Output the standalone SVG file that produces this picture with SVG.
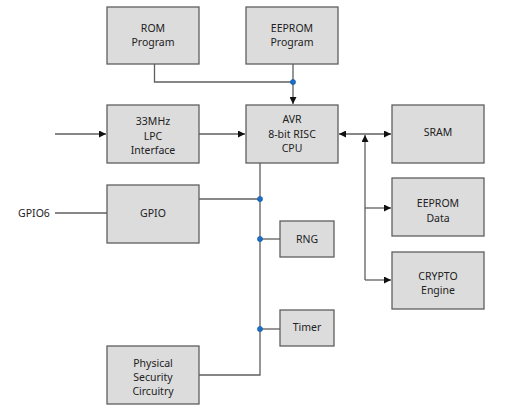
<svg xmlns="http://www.w3.org/2000/svg" width="512" height="413" viewBox="0 0 512 413">
<style>
.box{fill:#dcdcdc;stroke:#5f5f5f;stroke-width:1.3}
.t{font-family:"Noto Sans","Open Sans",sans-serif;font-size:10.5px;fill:#222;text-anchor:middle}
.ln{fill:none;stroke:#5f5f5f;stroke-width:1.3}
.dot{fill:#1a70c8;stroke:#0d4f95;stroke-width:0.5}
</style>
<defs>
<marker id="ah" viewBox="0 0 10 10" refX="10" refY="5" markerWidth="7" markerHeight="7" markerUnits="userSpaceOnUse" orient="auto-start-reverse">
<path d="M0,0 L10,5 L0,10 z" fill="#111"/>
</marker>
</defs>
<rect width="512" height="413" fill="#fff"/>
<g id="connectors">
<path class="ln" d="M154.5,64 V82 H293"/>
<path class="ln" d="M293,64 V104" marker-end="url(#ah)"/>
<path class="ln" d="M55,134 H106" marker-end="url(#ah)"/>
<path class="ln" d="M199,134 H245" marker-end="url(#ah)"/>
<path class="ln" d="M339,134 H391" marker-start="url(#ah)" marker-end="url(#ah)"/>
<path class="ln" d="M365,280 V135" marker-end="url(#ah)"/>
<path class="ln" d="M365,208 H391" marker-end="url(#ah)"/>
<path class="ln" d="M365,280 H391" marker-end="url(#ah)"/>
<path class="ln" d="M55,213 H107"/>
<path class="ln" d="M260,163 V375 H199"/>
<path class="ln" d="M199,199 H260"/>
<path class="ln" d="M260,239 H280"/>
<path class="ln" d="M260,329 H280"/>
<circle class="dot" cx="293" cy="82" r="2.6"/>
<circle class="dot" cx="260" cy="199" r="2.6"/>
<circle class="dot" cx="260" cy="239" r="2.6"/>
<circle class="dot" cx="260" cy="329" r="2.6"/>
</g>
<g id="rom"><rect class="box" x="107" y="7" width="92" height="57"/><text class="t" x="153" y="32">ROM</text><text class="t" x="153" y="46">Program</text></g>
<g id="eeprom-program"><rect class="box" x="246" y="7" width="92" height="57"/><text class="t" x="292" y="32">EEPROM</text><text class="t" x="292" y="46">Program</text></g>
<g id="lpc"><rect class="box" x="107" y="105" width="92" height="58"/><text class="t" x="153" y="125">33MHz</text><text class="t" x="153" y="140">LPC</text><text class="t" x="153" y="154">Interface</text></g>
<g id="avr"><rect class="box" x="246" y="105" width="92" height="58"/><text class="t" x="292" y="123">AVR</text><text class="t" x="292" y="138">8-bit RISC</text><text class="t" x="292" y="152">CPU</text></g>
<g id="sram"><rect class="box" x="392" y="105" width="92" height="58"/><text class="t" x="438" y="136">SRAM</text></g>
<g id="gpio6"><text class="t" x="34" y="217">GPIO6</text></g>
<g id="gpio"><rect class="box" x="107" y="185" width="92" height="58"/><text class="t" x="153" y="217">GPIO</text></g>
<g id="eeprom-data"><rect class="box" x="392" y="178" width="92" height="58"/><text class="t" x="438" y="207">EEPROM</text><text class="t" x="438" y="222">Data</text></g>
<g id="rng"><rect class="box" x="280" y="221" width="54" height="36"/><text class="t" x="307" y="243">RNG</text></g>
<g id="crypto"><rect class="box" x="392" y="252" width="92" height="57"/><text class="t" x="438" y="280">CRYPTO</text><text class="t" x="438" y="294">Engine</text></g>
<g id="timer"><rect class="box" x="280" y="310" width="54" height="36"/><text class="t" x="307" y="331">Timer</text></g>
<g id="physical"><rect class="box" x="107" y="346" width="92" height="58"/><text class="t" x="153" y="367">Physical</text><text class="t" x="153" y="381">Security</text><text class="t" x="153" y="395">Circuitry</text></g>
</svg>
